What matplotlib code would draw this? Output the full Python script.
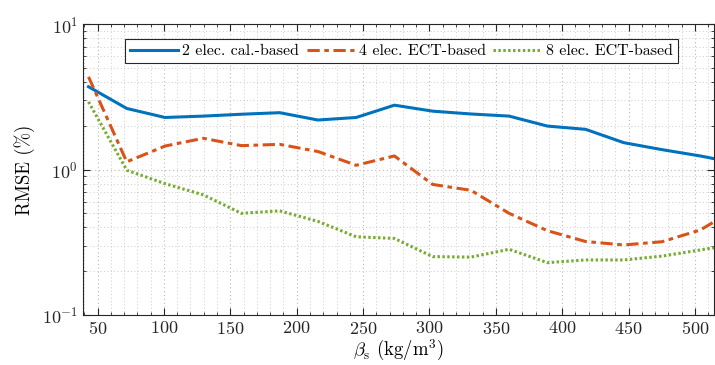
import numpy as np
import matplotlib
matplotlib.use("Agg")
import matplotlib.pyplot as plt
from matplotlib.ticker import MultipleLocator, LogLocator, NullFormatter

plt.rcParams['font.family'] = 'serif'
plt.rcParams['font.serif'] = ['cmr10']
plt.rcParams['mathtext.fontset'] = 'cm'
plt.rcParams['axes.unicode_minus'] = False
plt.rcParams['axes.formatter.use_mathtext'] = True

# density values (kg/m^3)
density = [43.2, 72.0, 100.8, 129.6, 158.4, 187.2, 216.0, 244.8, 273.6,
           302.4, 331.2, 360.0, 388.8, 417.6, 446.4, 475.2, 504.0, 532.8]

# RMSE (%) per method
rmse_2elec = [3.71, 2.63, 2.28, 2.33, 2.40, 2.46, 2.19, 2.28, 2.77,
              2.52, 2.41, 2.33, 1.99, 1.89, 1.53, 1.37, 1.24, 1.10]
rmse_4elec = [4.34, 1.13, 1.45, 1.64, 1.46, 1.49, 1.33, 1.07, 1.24,
              0.79, 0.72, 0.50, 0.38, 0.32, 0.303, 0.319, 0.384, 0.55]
rmse_8elec = [2.92, 0.99, 0.80, 0.67, 0.50, 0.52, 0.44, 0.345, 0.336,
              0.252, 0.25, 0.283, 0.229, 0.239, 0.239, 0.254, 0.28, 0.31]

labels = ['2 elec. cal.-based', '4 elec. ECT-based', '8 elec. ECT-based']

fig = plt.figure(figsize=(7.15, 3.65), dpi=100)
ax = fig.add_axes([0.116, 0.137, 0.882, 0.797])

ax.plot(density, rmse_2elec, color='#0072BD', lw=2.2, label=labels[0])
ax.plot(density, rmse_4elec, color='#D95319', lw=2.2, dashes=(4, 1.5, 1.5, 1.5), label=labels[1])
ax.plot(density, rmse_8elec, color='#77AC30', lw=2.2, linestyle=(0, (0.8, 0.8)), label=labels[2])

ax.set_yscale('log')
ax.set_xlim(39, 514)
ax.set_ylim(0.1, 10)
ax.xaxis.set_major_locator(MultipleLocator(50))
ax.xaxis.set_minor_locator(MultipleLocator(10))
ax.yaxis.set_major_locator(LogLocator(base=10))
ax.yaxis.set_minor_locator(LogLocator(base=10, subs=np.arange(2, 10)))
ax.yaxis.set_minor_formatter(NullFormatter())

ax.grid(True, which='major', linestyle=(0, (1, 2.5)), color='#b8b8b8', lw=0.8)
ax.grid(True, which='minor', linestyle=(0, (1, 2.5)), color='#cccccc', lw=0.7)
ax.tick_params(which='both', direction='in', top=True, right=True, colors='#262626', labelsize=13)
ax.tick_params(which='major', length=5)
ax.tick_params(which='minor', length=2.5)
for s in ax.spines.values():
    s.set_color('#262626')
    s.set_linewidth(0.8)

ax.set_xlabel(r'$\beta_\mathrm{s}$ (kg/m$^3$)', fontsize=13.5, labelpad=1)
ax.set_ylabel('RMSE (%)', fontsize=13.5, labelpad=5)

leg = ax.legend(loc='upper center', ncol=3, fontsize=11.5, frameon=True, fancybox=False,
                edgecolor='#262626', framealpha=1, handlelength=3.0, columnspacing=0.45,
                handletextpad=0.3, borderpad=0.3, bbox_to_anchor=(0.505, 0.975))
leg.get_frame().set_linewidth(0.8)

fig.savefig('out.png', dpi=100)
